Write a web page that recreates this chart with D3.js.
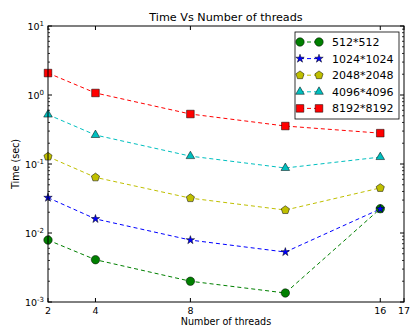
<!DOCTYPE html>
<html>
<head>
<meta charset="utf-8">
<script src="https://cdn.jsdelivr.net/npm/d3@7"></script>
<style>
  body { margin: 0; background: #fff; }
  text { font-family: "DejaVu Sans", sans-serif; fill: #000; }
</style>
</head>
<body>
<div id="chart"></div>
<script>
const threads = [2, 4, 8, 12, 16];
const xTicks = [2, 4, 8, 16, 17];
const yTicks = [-3, -2, -1, 0, 1];
const seriesNames = ["512*512", "1024*1024", "2048*2048", "4096*4096", "8192*8192"];
const t512 = [0.0079, 0.0041, 0.0020, 0.00135, 0.0225];
const t1024 = [0.0325, 0.016, 0.0079, 0.0053, 0.0223];
const t2048 = [0.128, 0.064, 0.032, 0.0215, 0.045];
const t4096 = [0.52, 0.263, 0.13, 0.0875, 0.126];
const t8192 = [2.08, 1.07, 0.53, 0.355, 0.28];

const width = 412, height = 327;
const margin = { top: 26, right: 8, bottom: 25, left: 48 };

const series = [
  { name: seriesNames[0], values: t512, color: "#008000", shape: d3.symbolCircle, size: 56 },
  { name: seriesNames[1], values: t1024, color: "#0000ff", shape: d3.symbolStar, size: 22 },
  { name: seriesNames[2], values: t2048, color: "#bfbf00", shape: "pentagon", size: 4.3 },
  { name: seriesNames[3], values: t4096, color: "#00bfbf", shape: d3.symbolTriangle, size: 32 },
  { name: seriesNames[4], values: t8192, color: "#ff0000", shape: d3.symbolSquare, size: 58 }
];

const svg = d3.select("#chart").append("svg")
  .attr("width", width)
  .attr("height", height);

const x = d3.scaleLinear().domain([2, 17]).range([margin.left, width - margin.right]);
const y = d3.scaleLog().domain([1e-3, 1e1]).range([height - margin.bottom, margin.top]);

const x0 = x.range()[0], x1 = x.range()[1];
const y0 = y.range()[0], y1 = y.range()[1];

function pentagon(r) {
  const pts = d3.range(5).map(i => {
    const a = -Math.PI / 2 + i * 2 * Math.PI / 5;
    return [r * Math.cos(a), r * Math.sin(a)];
  });
  return "M" + pts.join("L") + "Z";
}

function markerPath(s) {
  if (s.shape === "pentagon") return pentagon(s.size);
  return d3.symbol().type(s.shape).size(s.size)();
}

// minor + major ticks on all sides
const g = svg.append("g");
const minor = [];
yTicks.slice(0, -1).forEach(e => {
  for (let k = 2; k < 10; k++) minor.push(k * Math.pow(10, e));
});
minor.forEach(v => {
  g.append("line").attr("x1", x0).attr("x2", x0 + 2).attr("y1", y(v)).attr("y2", y(v)).attr("stroke", "#000").attr("stroke-width", 0.8);
  g.append("line").attr("x1", x1).attr("x2", x1 - 2).attr("y1", y(v)).attr("y2", y(v)).attr("stroke", "#000").attr("stroke-width", 0.8);
});
yTicks.forEach(e => {
  const v = Math.pow(10, e);
  g.append("line").attr("x1", x0).attr("x2", x0 + 4).attr("y1", y(v)).attr("y2", y(v)).attr("stroke", "#000");
  g.append("line").attr("x1", x1).attr("x2", x1 - 4).attr("y1", y(v)).attr("y2", y(v)).attr("stroke", "#000");
  const t = g.append("text")
    .attr("x", x0 - 4)
    .attr("y", y(v) + 4)
    .attr("text-anchor", "end")
    .style("font-size", "9.5px");
  t.append("tspan").text("10");
  t.append("tspan").attr("dy", -4).style("font-size", "7px").text(e);
});
xTicks.forEach(v => {
  g.append("line").attr("x1", x(v)).attr("x2", x(v)).attr("y1", y0).attr("y2", y0 - 4).attr("stroke", "#000");
  g.append("line").attr("x1", x(v)).attr("x2", x(v)).attr("y1", y1).attr("y2", y1 + 4).attr("stroke", "#000");
  g.append("text")
    .attr("x", x(v))
    .attr("y", y0 + 12)
    .attr("text-anchor", "middle")
    .style("font-size", "9.5px")
    .text(v);
});

// lines and markers
const line = d3.line().x((d, i) => x(threads[i])).y(d => y(d));
series.forEach(s => {
  svg.append("path")
    .attr("d", line(s.values))
    .attr("fill", "none")
    .attr("stroke", s.color)
    .attr("stroke-width", 1)
    .attr("stroke-dasharray", "4,3");
});
series.forEach(s => {
  svg.selectAll(null)
    .data(s.values)
    .enter()
    .append("path")
    .attr("d", markerPath(s))
    .attr("transform", (d, i) => `translate(${x(threads[i])},${y(d)})`)
    .attr("fill", s.color)
    .attr("stroke", "#000")
    .attr("stroke-width", 0.5);
});

// frame
svg.append("rect")
  .attr("x", x0).attr("y", y1)
  .attr("width", x1 - x0).attr("height", y0 - y1)
  .attr("fill", "none").attr("stroke", "#000").attr("stroke-width", 1);

// title and labels
svg.append("text")
  .attr("x", (x0 + x1) / 2).attr("y", 21)
  .attr("text-anchor", "middle")
  .style("font-size", "11.2px")
  .text("Time Vs Number of threads");
svg.append("text")
  .attr("x", (x0 + x1) / 2).attr("y", 325)
  .attr("text-anchor", "middle")
  .style("font-size", "9.6px")
  .text("Number of threads");
svg.append("text")
  .attr("transform", `translate(19,${(y0 + y1) / 2}) rotate(-90)`)
  .attr("text-anchor", "middle")
  .style("font-size", "9.6px")
  .text("Time (sec)");

// legend
const lg = svg.append("g").attr("transform", "translate(295,32)");
lg.append("rect")
  .attr("width", 104).attr("height", 87)
  .attr("fill", "#fff").attr("stroke", "#000").attr("stroke-width", 0.8);
series.forEach((s, i) => {
  const yy = 10 + i * 16.6;
  lg.append("line")
    .attr("x1", 5).attr("x2", 24).attr("y1", yy).attr("y2", yy)
    .attr("stroke", s.color).attr("stroke-width", 1).attr("stroke-dasharray", "4,3");
  [5, 24].forEach(px => {
    lg.append("path")
      .attr("d", markerPath(s))
      .attr("transform", `translate(${px},${yy})`)
      .attr("fill", s.color).attr("stroke", "#000").attr("stroke-width", 0.5);
  });
  lg.append("text")
    .attr("x", 37).attr("y", yy + 4)
    .style("font-size", "11px")
    .text(s.name);
});
</script>
</body>
</html>
